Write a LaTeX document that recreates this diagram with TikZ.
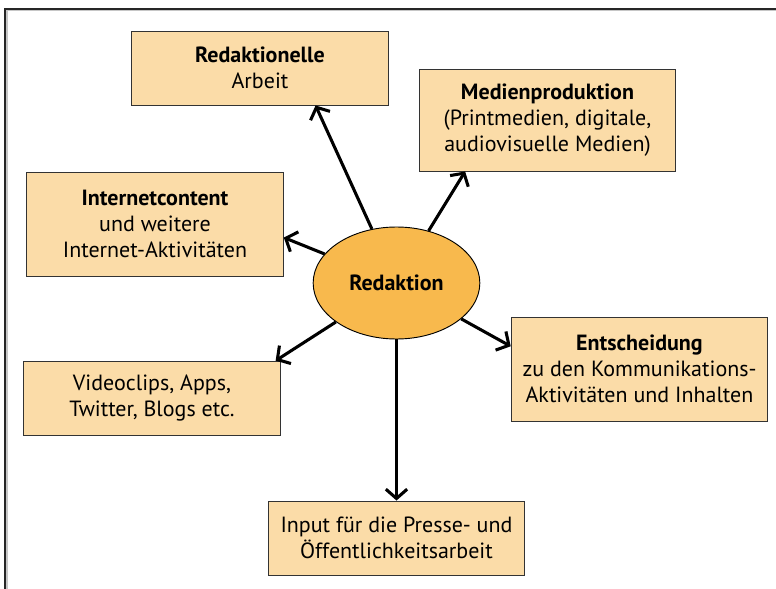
\documentclass[tikz,border=0pt]{standalone}
\usepackage{fontspec}
\setmainfont{PT Sans}
\usetikzlibrary{shapes.geometric,arrows.meta}

\definecolor{boxfill}{HTML}{FBDCA8}
\definecolor{kernfill}{HTML}{F8B94D}

\begin{document}
\begin{tikzpicture}[x=0.75pt,y=-0.75pt,-{Straight Barb[length=7pt,width=16pt]},line width=2.3pt,
  main node/.style={ellipse, draw, line width=0.7pt, fill=kernfill, minimum width=125pt, minimum height=84pt, inner sep=0pt},
  info node/.style={rectangle, draw=black!80, line width=0.7pt, fill=boxfill, minimum width=192.5pt, inner sep=0pt, align=center}]
        \tikzstyle{every node}=[font=\fontsize{16.5}{19.5}\selectfont]
        \useasboundingbox (0,0) rectangle (776,589);

          % frame
          \draw[-, line width=0.8pt, gray!45] (7,589) -- (7,10.5) -- (776,10.5);
          \draw[-, line width=1.5pt, black!85] (5,589) -- (5,8.5) -- (776,8.5);

          \node[main node] (1) at (396.5,283) {\textbf{Redaktion}};
          \node[info node, minimum height=55.5pt] (2) at (260,68) {\textbf{Redaktionelle}\\Arbeit};
          \node[info node, minimum height=76.5pt] (3) at (547.5,120) {\textbf{Medienproduktion}\\(Printmedien, digitale,\\audiovisuelle Medien)};
          \node[info node, minimum height=78pt] (4) at (155,224) {\textbf{Internetcontent}\\und weitere\\Internet-Aktivitäten};
          \node[info node, minimum height=56pt] (5) at (152,398.5) {Videoclips, Apps,\\Twitter, Blogs etc.};
          \node[info node, minimum height=78pt] (6) at (639.5,369) {\textbf{Entscheidung}\\zu den Kommunikations-\\Aktivitäten und Inhalten};
          \node[info node, minimum height=55.5pt] (7) at (396.5,538) {Input für die Presse- und\\Öffentlichkeitsarbeit};

          \path (1) edge (2.-34)
                (1) edge (3.-148)
                (1) edge (4.-6)
                (1) edge (5.17)
                (1) edge (6.170)
                (1) edge (7.north);

        \end{tikzpicture}
\end{document}
